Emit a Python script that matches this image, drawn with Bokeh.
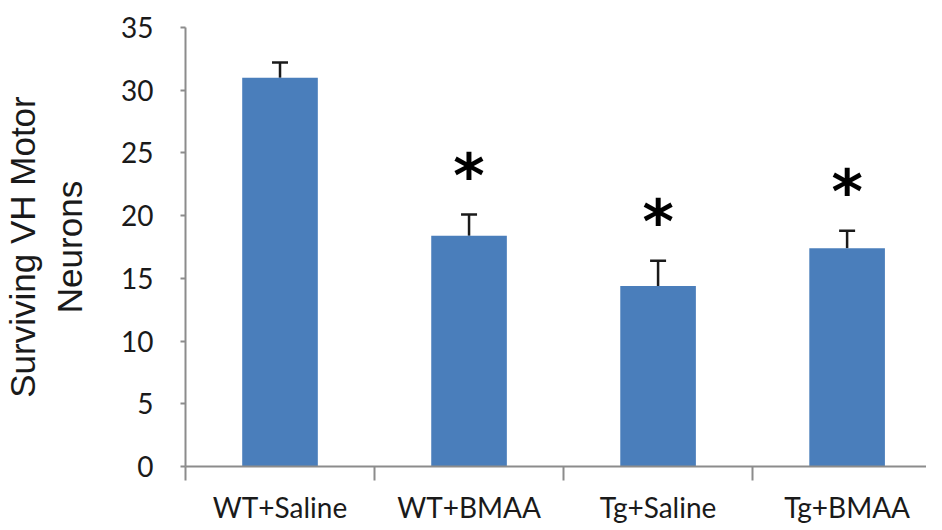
from bokeh.plotting import figure
from bokeh.models import Range1d, FixedTicker, Whisker, ColumnDataSource, TeeHead
from bokeh.core.properties import value
from bokeh.embed import file_html
from bokeh.resources import INLINE

categories = ["WT+Saline", "WT+BMAA", "Tg+Saline", "Tg+BMAA"]
means = [31.0, 18.4, 14.4, 17.4]
errors = [1.2, 1.7, 2.0, 1.4]
significant = [False, True, True, True]
y_ticks = [0, 5, 10, 15, 20, 25, 30, 35]

xs = [i + 0.5 for i in range(len(categories))]
upper = [m + e for m, e in zip(means, errors)]
src = ColumnDataSource(dict(x=xs, top=means, upper=upper))

star_gap = 3.1
star_src = ColumnDataSource(dict(
    x=[x for x, s in zip(xs, significant) if s],
    y=[u + star_gap for u, s in zip(upper, significant) if s],
    t=["*" for s in significant if s],
))

AXIS_GRAY = "#8c8c8c"
BAR_BLUE = "#4A7EBB"

p = figure(width=926, height=526, output_backend="svg", toolbar_location=None,
           x_range=Range1d(0, 3.92), y_range=Range1d(0, 35),
           min_border_left=172, min_border_right=0, min_border_top=27,
           min_border_bottom=40)

p.vbar(x="x", top="top", width=0.4, source=src, fill_color=BAR_BLUE, line_color=None)

p.add_layout(Whisker(source=src, base="x", lower="top", upper="upper", dimension="height",
                     line_color="#1a1a1a", line_width=2.5, lower_head=None,
                     upper_head=TeeHead(size=16, line_width=2.5, line_color="#1a1a1a")))

p.text(x="x", y="y", text="t", source=star_src, text_align="center", text_baseline="middle",
       text_font=value("DejaVu Sans"), text_font_style="bold", text_font_size="60px",
       text_color="black")

# x axis: category labels at centres, tick marks between categories
p.xaxis.ticker = FixedTicker(ticks=xs, minor_ticks=list(range(len(categories) + 1)))
p.xaxis.major_label_overrides = {x: c for x, c in zip(xs, categories)}
p.xaxis.major_tick_line_color = None
p.xaxis.major_tick_out = 0
p.xaxis.major_tick_in = 0
p.xaxis.minor_tick_out = 14
p.xaxis.minor_tick_in = 0
p.xaxis.minor_tick_line_color = AXIS_GRAY
p.xaxis.minor_tick_line_width = 2
p.xaxis.axis_line_color = AXIS_GRAY
p.xaxis.axis_line_width = 2
p.xaxis.major_label_text_font = "Lato"
p.xaxis.major_label_text_font_size = "28px"
p.xaxis.major_label_text_color = "#1a1a1a"
p.xaxis.major_label_standoff = 9

# y axis
p.yaxis.ticker = FixedTicker(ticks=y_ticks)
p.yaxis.minor_tick_line_color = None
p.yaxis.major_tick_out = 5
p.yaxis.major_tick_in = 0
p.yaxis.major_tick_line_color = AXIS_GRAY
p.yaxis.major_tick_line_width = 2
p.yaxis.axis_line_color = AXIS_GRAY
p.yaxis.axis_line_width = 2
p.yaxis.major_label_text_font = "Lato"
p.yaxis.major_label_text_font_size = "28px"
p.yaxis.major_label_text_color = "#1a1a1a"
p.yaxis.major_label_standoff = 27
p.yaxis.axis_label = "Surviving VH Motor\nNeurons"
p.yaxis.axis_label_text_font = "Liberation Sans"
p.yaxis.axis_label_text_font_style = "normal"
p.yaxis.axis_label_text_font_size = "35px"
p.yaxis.axis_label_text_color = "#1a1a1a"
p.yaxis.axis_label_standoff = 29

p.grid.visible = False
p.outline_line_color = None

open("out.html", "w").write(file_html(p, INLINE))
